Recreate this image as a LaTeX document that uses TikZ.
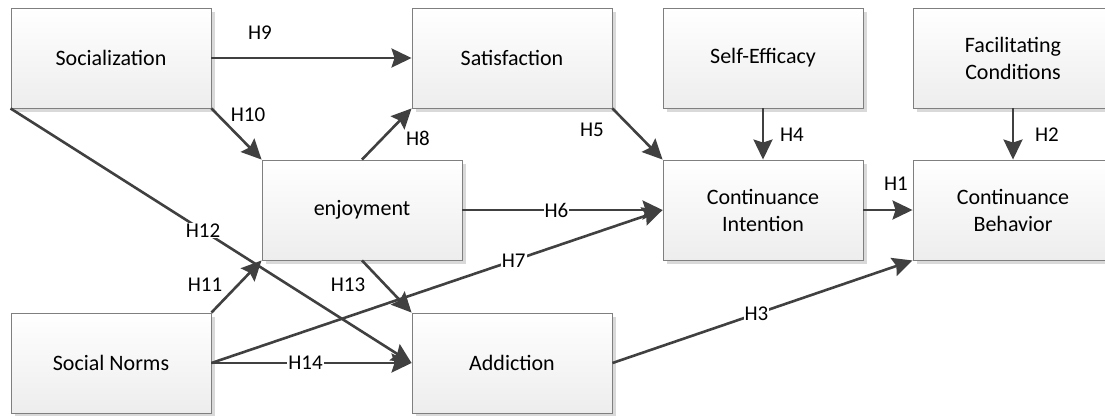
\documentclass[tikz,border=0pt]{standalone}
\usepackage{fontspec}
\setmainfont{Carlito}
\usetikzlibrary{shapes,arrows.meta,positioning,shadows}
\usepackage{xcolor}
\definecolor{linegray}{HTML}{404040}
\definecolor{boxedge}{HTML}{7F7F7F}
\definecolor{boxfoot}{HTML}{EDEDED}
\definecolor{shade}{HTML}{D9D9D9}

\begin{document}
\begin{tikzpicture}[x=1pt, y=-1pt,
  construct/.style={rectangle, draw=boxedge, line width=0.9pt, top color=white, bottom color=boxfoot,
    minimum width=200pt, minimum height=100pt, align=center, font=\fontsize{22}{27}\selectfont,
    drop shadow={shadow xshift=4pt, shadow yshift=-4pt, fill=shade, opacity=1}},
  arr/.style={-{Stealth[length=20pt, width=19pt, inset=3pt]}, line width=2.6pt, linegray},
  hyp/.style={font=\fontsize{21}{24}\selectfont, inner sep=1pt, text=black},
  hypon/.style={hyp, fill=white}
]
  \useasboundingbox (0,0) rectangle (1105,415);

  % Top row
  \node[construct] (soc) at (111,58) {Socialization};
  \node[construct] (sat) at (512,58) {Satisfaction};
  \node[construct] (se) at (763,58) {Self-Efficacy};
  \node[construct] (fc) at (1013,58) {Facilitating\\Conditions};
  % Middle row
  \node[construct] (enj) at (362,210) {enjoyment};
  \node[construct] (ci) at (763,210) {Continuance\\Intention};
  \node[construct] (cb) at (1013,210) {Continuance\\Behavior};
  % Bottom row
  \node[construct] (sn) at (111,363) {Social Norms};
  \node[construct] (add) at (512,363) {Addiction};

  % Paths
  \draw[arr] (soc.east) -- (sat.west);
  \draw[arr] (soc.south east) -- (enj.north west);
  \draw[arr] (enj.north) -- (sat.south west);
  \draw[arr] (sat.south east) -- (ci.north west);
  \draw[arr] (se.south) -- (ci.north);
  \draw[arr] (fc.south) -- (cb.north);
  \draw[arr] (ci.east) -- (cb.west);
  \draw[arr] (enj.east) -- node[hypon, pos=0.47] {H6} (ci.west);
  \draw[arr] (sn.east) -- node[hypon, pos=0.67] {H7} (ci.west);
  \draw[arr] (add.east) -- node[hypon, pos=0.48] {H3} (cb.south west);
  \draw[arr] (sn.north east) -- (enj.south west);
  \draw[arr] (soc.south west) -- node[hypon, pos=0.48] {H12} (add.west);
  \draw[arr] (enj.south) -- (add.north west);
  \draw[arr] (sn.east) -- node[hypon, pos=0.47] {H14} (add.west);

  % Hypothesis labels beside the paths
  \foreach \h/\x/\y in {H9/260/33, H10/248/115, H8/418/138, H5/592/130, H4/792/135,
                        H2/1047/135, H1/896/184, H11/205/285, H13/348/285} {
    \node[hyp] (lab\h) at (\x,\y) {\h};
  }
\end{tikzpicture}
\end{document}
